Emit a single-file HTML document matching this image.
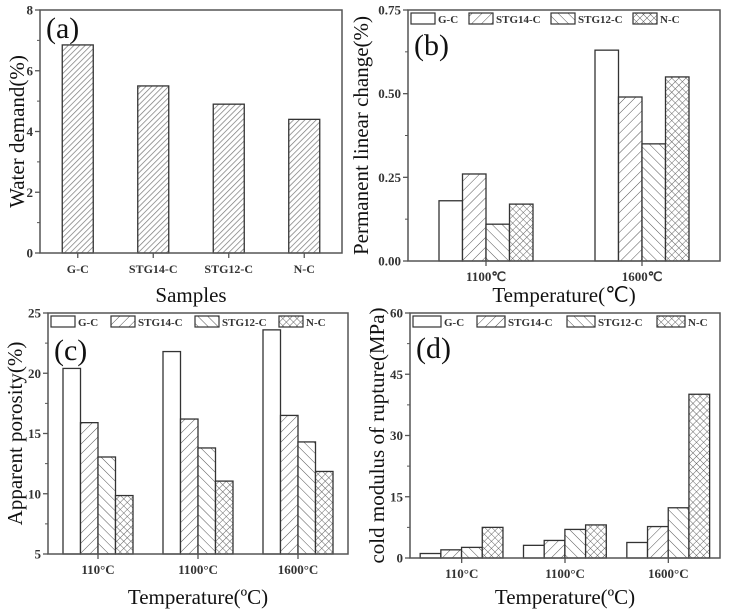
<!DOCTYPE html>
<html><head><meta charset="utf-8"><style>
html,body{margin:0;padding:0;background:#fff;}
svg{display:block;font-family:"Liberation Serif",serif;}
</style></head><body>
<svg id="fig" width="730" height="611" viewBox="0 0 730 611">
<defs>
<pattern id="pa" patternUnits="userSpaceOnUse" width="4" height="4" patternTransform="rotate(45)"><rect width="4" height="4" fill="#fff"/><line x1="0" y1="0" x2="0" y2="4" stroke="#777" stroke-width="1.4"/></pattern>
<pattern id="pf" patternUnits="userSpaceOnUse" width="7" height="7" patternTransform="rotate(45)"><rect width="7" height="7" fill="#fff"/><line x1="0" y1="0" x2="0" y2="7" stroke="#555" stroke-width="1"/></pattern>
<pattern id="pb" patternUnits="userSpaceOnUse" width="7" height="7" patternTransform="rotate(-45)"><rect width="7" height="7" fill="#fff"/><line x1="0" y1="0" x2="0" y2="7" stroke="#555" stroke-width="1"/></pattern>
<pattern id="px" patternUnits="userSpaceOnUse" width="5" height="5" patternTransform="rotate(45)"><rect width="5" height="5" fill="#fff"/><line x1="0" y1="0" x2="0" y2="5" stroke="#555" stroke-width="0.9"/><line x1="0" y1="0" x2="5" y2="0" stroke="#555" stroke-width="0.9"/></pattern>
</defs>
</svg>
<script>
// ---- data ----
const seriesNames = ["G-C","STG14-C","STG12-C","N-C"];
const aCategories = ["G-C","STG14-C","STG12-C","N-C"];
const aValues = [6.85,5.5,4.9,4.4];
const aTicks = ["0","2","4","6","8"];
const bCategories = ["1100℃","1600℃"];
const bGC = [0.18,0.63];
const bSTG14 = [0.26,0.49];
const bSTG12 = [0.11,0.35];
const bNC = [0.17,0.55];
const bTicks = ["0.00","0.25","0.50","0.75"];
const cCategories = ["110°C","1100°C","1600°C"];
const cGC = [20.4,21.8,23.6];
const cSTG14 = [15.9,16.2,16.5];
const cSTG12 = [13.05,13.8,14.3];
const cNC = [9.85,11.05,11.85];
const cTicks = ["5","10","15","20","25"];
const dCategories = ["110°C","1100°C","1600°C"];
const dGC = [1.1,3.1,3.8];
const dSTG14 = [2.0,4.3,7.7];
const dSTG12 = [2.6,7.0,12.3];
const dNC = [7.5,8.1,40.1];
const dTicks = ["0","15","30","45","60"];

const NS="http://www.w3.org/2000/svg";
const svg=document.getElementById('fig');
const fills=["#fff","url(#pf)","url(#pb)","url(#px)"];
function mk(tag,attrs,parent){const e=document.createElementNS(NS,tag);for(const k in attrs)e.setAttribute(k,attrs[k]);(parent||svg).appendChild(e);return e;}
function txt(s,attrs,parent){const e=mk('text',attrs,parent);e.textContent=s;return e;}

function panel(o){
  const g=mk('g',{});
  
  
  const ymin=parseFloat(o.ticks[0]),ymax=parseFloat(o.ticks[o.ticks.length-1]);
  const y=v=>o.y1-(v-ymin)/(ymax-ymin)*(o.y1-o.y0);
  const n=o.cats.length;
  const groupW=(o.x1-o.x0)/n;
  const xc=i=>o.x0+groupW*(i+0.5);
  o.series.forEach((vals,s)=>{
    vals.forEach((v,i)=>{
      const bx=xc(i)-o.groupBarW/2+s*o.barW;
      const r=mk('rect',{x:bx,y:y(v),width:o.barW,height:y(ymin)-y(v),fill:o.fills[s],stroke:'#333','stroke-width':1.3},g);
      
      
    });
  });
  const f=mk('rect',{x:o.x0,y:o.y0,width:o.x1-o.x0,height:o.y1-o.y0,fill:'none',stroke:'#555','stroke-width':1.5},g);
  
  
  o.ticks.forEach((t,k)=>{
    const v=parseFloat(t),yy=y(v);
    mk('line',{x1:o.x0-5,x2:o.x0,y1:yy,y2:yy,stroke:'#555','stroke-width':1.3},g);
    if(k<o.ticks.length-1){const ym=y(v+(parseFloat(o.ticks[1])-parseFloat(o.ticks[0]))/2);mk('line',{x1:o.x0-3,x2:o.x0,y1:ym,y2:ym,stroke:'#555','stroke-width':1},g);}
    const tl=txt(t,{x:o.x0-7,y:yy+4.5,'text-anchor':'end','font-size':13,'font-weight':'bold',fill:'#333'},g);
    
    
  });
  o.cats.forEach((c,i)=>{
    mk('line',{x1:xc(i),x2:xc(i),y1:o.y1,y2:o.y1+5,stroke:'#555','stroke-width':1.3},g);
    const tl=txt(c,{x:xc(i),y:o.y1+20,'text-anchor':'middle','font-size':o.xtfs||13,'font-weight':'bold',fill:'#333'},g);
    
    
  });
  const xt=txt(o.xtitle,{x:(o.x0+o.x1)/2,y:o.xty,'text-anchor':'middle','font-size':21,fill:'#111'},g);
  
  
  const yt=txt(o.ytitle,{x:0,y:0,'text-anchor':'middle','font-size':21,fill:'#111',transform:`translate(${o.ytx},${(o.y0+o.y1)/2}) rotate(-90)`},g);
  
  
  const pl=txt(o.label,{x:o.x0+6,y:o.y0+o.ly,'font-size':30,fill:'#111'},g);
  
  
  if(o.legend){
    let lx=o.x0+3;
    o.snames.forEach((s,k)=>{
      const le=mk('g',{},g);
      
      
      mk('rect',{x:lx,y:o.y0+3,width:o.legBox,height:11,fill:fills[k],stroke:'#333','stroke-width':1.2},le);
      txt(s,{x:lx+o.legBox+3,y:o.y0+13,'font-size':11,'font-weight':'bold',fill:'#333'},le);
      lx+=o.legBox+6+o.legW[k];
    });
  }
}

panel({name:'panel-a-water-demand',key:'a',x0:40,x1:342,y0:10,y1:253,cats:aCategories,series:[aValues],snames:['water'],fills:['url(#pa)'],barW:31,groupBarW:31,ticks:aTicks,xtitle:'Samples',xty:302,ytitle:'Water demand(%)',ytx:24,label:'(a)',ly:28,xtfs:12});
panel({name:'panel-b-linear-change',key:'b',x0:408,x1:720,y0:10,y1:261,cats:bCategories,series:[bGC,bSTG14,bSTG12,bNC],snames:seriesNames,fills:fills,barW:23.5,groupBarW:94,ticks:bTicks,xtitle:'Temperature(℃)',xty:302,ytitle:'Permanent linear change(%)',ytx:368,label:'(b)',ly:45,legend:true,legBox:24,legW:[28,52,52,28]});
panel({name:'panel-c-porosity',key:'c',x0:48,x1:348,y0:313,y1:554,cats:cCategories,series:[cGC,cSTG14,cSTG12,cNC],snames:seriesNames,fills:fills,barW:17.5,groupBarW:70,ticks:cTicks,xtitle:'Temperature(\u00BAC)',xty:604,ytitle:'Apparent porosity(%)',ytx:22,label:'(c)',ly:47,legend:true,legBox:24,legW:[30,54,54,30]});
panel({name:'panel-d-rupture',key:'d',x0:410,x1:720,y0:313,y1:558,cats:dCategories,series:[dGC,dSTG14,dSTG12,dNC],snames:seriesNames,fills:fills,barW:20.7,groupBarW:83,ticks:dTicks,xtitle:'Temperature(\u00BAC)',xty:604,ytitle:'cold modulus of rupture(MPa)',ytx:384,label:'(d)',ly:45,legend:true,legBox:28,legW:[30,56,56,30]});
</script>
</body></html>
